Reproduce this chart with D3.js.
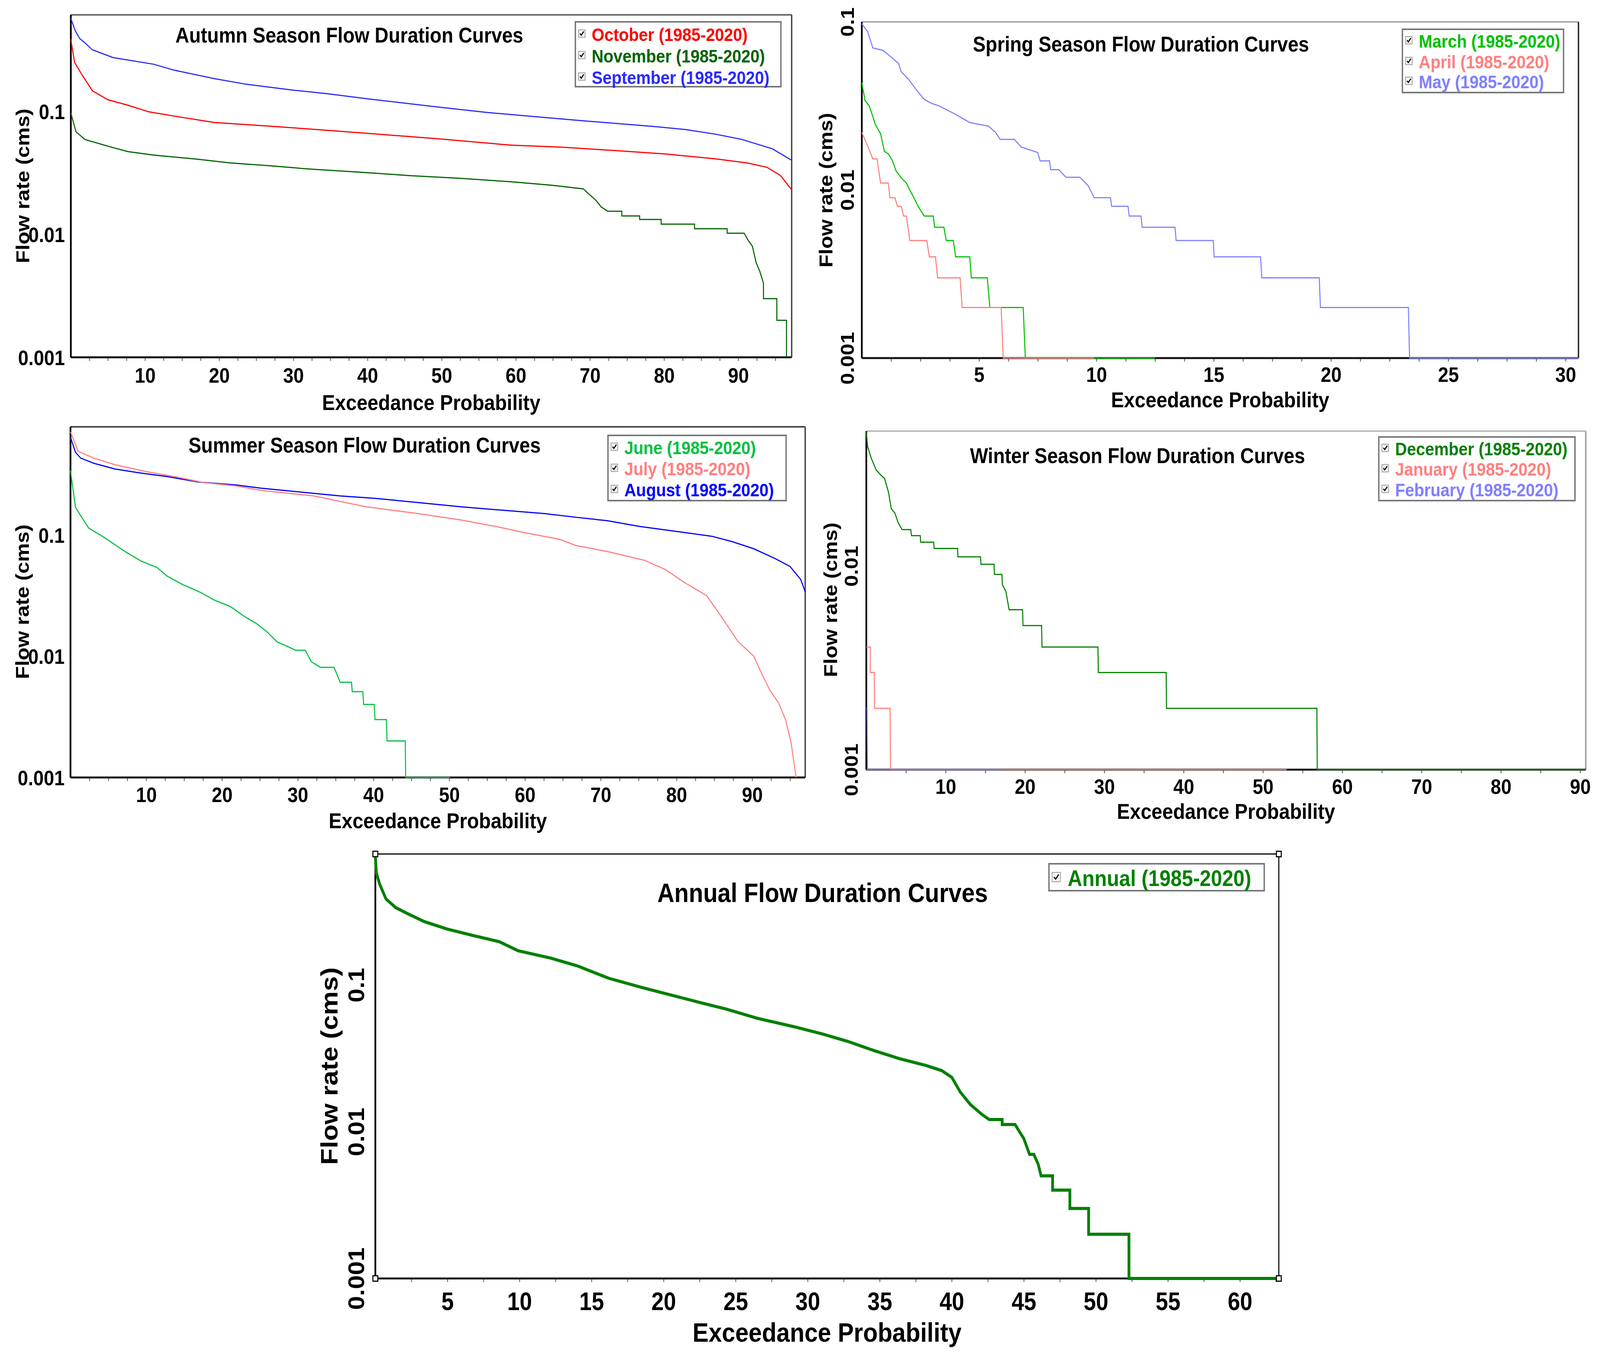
<!DOCTYPE html>
<html>
<head>
<meta charset="utf-8">
<script src="https://cdnjs.cloudflare.com/ajax/libs/d3/7.8.5/d3.min.js"></script>
<style>
  html, body { margin: 0; padding: 0; background: #fff; overflow: hidden; }
  #container { width: 100vw; height: 100vh; }
  text { font-family: "Liberation Sans", Arial, sans-serif; font-weight: bold; }
</style>
</head>
<body>
<div id="container"></div>
<script>
// ---- data: [exceedance probability, flow (cms)] ----
const september = [[0,0.57],[0.6,0.45],[1.2,0.39],[1.9,0.36],[2.9,0.316],[5.7,0.273],[11.2,0.241],[13.9,0.216],[19.4,0.184],[23.6,0.166],[29.8,0.149],[34.6,0.139],[40.1,0.126],[49.1,0.109],[56,0.098],[62.9,0.09],[69.8,0.083],[78.8,0.075],[82.9,0.071],[87,0.065],[90.5,0.059],[94.6,0.0495],[97.2,0.04]];
const october = [[0,0.385],[0.5,0.25],[1.5,0.198],[2.9,0.147],[5,0.124],[7.7,0.112],[10.5,0.099],[14.6,0.09],[19.4,0.081],[25,0.077],[31.9,0.072],[38.8,0.067],[49.1,0.06],[59.4,0.053],[66.3,0.051],[73.2,0.048],[80.1,0.045],[87,0.041],[91.2,0.038],[93.9,0.035],[95.7,0.03],[97.2,0.023]];
const november = [[0,0.097],[0.7,0.068],[1.9,0.059],[5,0.052],[7.7,0.047],[11.2,0.044],[16.7,0.041],[21.5,0.038],[27,0.036],[31.9,0.034],[38.8,0.032],[45.7,0.03],[52.6,0.0285],[59.4,0.0267],[64.9,0.025],[69.1,0.0234],[69.8,0.0214],[70.8,0.0189],[71.5,0.0167],[72.4,0.0154],[74.3,0.0154],[74.3,0.0141],[76.7,0.0141],[76.7,0.0132],[79.6,0.0132],[79.6,0.0121],[84.1,0.0121],[84.1,0.0111],[88.5,0.0111],[88.5,0.0102],[90.8,0.0102],[91.3,0.009],[91.9,0.008],[92.4,0.0059],[92.9,0.005],[93.4,0.004],[93.4,0.003],[95.2,0.003],[95.2,0.002],[96.5,0.002],[96.5,0.001]];

const march = [[0,0.0435],[0.14,0.034],[0.32,0.0316],[0.47,0.0273],[0.58,0.0245],[0.8,0.0216],[0.96,0.017],[1.13,0.0164],[1.3,0.015],[1.46,0.013],[1.68,0.0118],[1.9,0.011],[2.05,0.00995],[2.22,0.009],[2.4,0.008],[2.66,0.007],[3.05,0.007],[3.1,0.006],[3.5,0.006],[3.6,0.005],[3.9,0.005],[4.0,0.004],[4.6,0.004],[4.67,0.003],[5.35,0.003],[5.46,0.002],[6.88,0.002],[6.97,0.001],[12.5,0.001]];
const april = [[0,0.022],[0.25,0.0183],[0.47,0.0153],[0.65,0.0153],[0.8,0.011],[1.13,0.011],[1.2,0.009],[1.41,0.009],[1.52,0.008],[1.68,0.008],[1.78,0.007],[1.9,0.007],[2.05,0.005],[2.77,0.005],[2.88,0.004],[3.14,0.004],[3.23,0.003],[4.19,0.003],[4.28,0.002],[5.94,0.002],[6.03,0.001],[9.9,0.001]];
const may = [[0,0.0975],[0.25,0.0874],[0.47,0.07],[0.9,0.0677],[1.24,0.062],[1.57,0.0565],[1.67,0.0507],[2.0,0.0454],[2.33,0.0393],[2.66,0.0346],[2.99,0.0327],[3.3,0.0316],[3.97,0.0283],[4.6,0.0252],[5.4,0.024],[5.7,0.022],[5.9,0.02],[6.5,0.02],[6.8,0.018],[7.5,0.0167],[7.6,0.0149],[8.0,0.0149],[8.05,0.0132],[8.4,0.0132],[8.7,0.0119],[9.3,0.0119],[9.65,0.0106],[9.9,0.009],[10.6,0.009],[10.65,0.008],[11.35,0.008],[11.4,0.007],[11.9,0.007],[11.95,0.006],[13.35,0.006],[13.4,0.005],[14.98,0.005],[15.02,0.004],[17.0,0.004],[17.05,0.003],[19.5,0.003],[19.55,0.002],[23.3,0.002],[23.35,0.001],[30.55,0.001]];

const june = [[0,0.34],[0.66,0.169],[1.36,0.144],[2.4,0.114],[4.5,0.095],[7.2,0.073],[9.3,0.061],[11.4,0.054],[12.8,0.0456],[14.8,0.039],[17.3,0.0333],[19,0.029],[21.1,0.0257],[23.1,0.021],[24.5,0.0187],[25.9,0.016],[27.3,0.0131],[28.7,0.012],[29.7,0.0112],[31,0.0112],[31.8,0.009],[33,0.0081],[34.8,0.0081],[35.6,0.0061],[37.1,0.0061],[37.2,0.0051],[38.6,0.0051],[38.7,0.004],[40.1,0.004],[40.2,0.003],[41.7,0.003],[41.8,0.002],[44.2,0.002],[44.25,0.001],[50.1,0.001]];
const july = [[0,0.71],[1.0,0.49],[3.1,0.43],[5.85,0.38],[10,0.333],[14.1,0.3],[17.6,0.27],[21.8,0.254],[25.2,0.233],[32.1,0.21],[39,0.171],[45.9,0.15],[51.5,0.133],[56.3,0.117],[59.8,0.105],[64.6,0.092],[66.7,0.082],[70.9,0.073],[75.7,0.062],[78.5,0.052],[81.2,0.04],[84,0.0316],[86.4,0.0192],[88.1,0.0133],[90.2,0.01],[91.3,0.0071],[92.3,0.0053],[93.5,0.0041],[94.4,0.003],[95.1,0.002],[95.8,0.001]];
const august = [[0,0.64],[0.66,0.48],[1.36,0.43],[3.1,0.39],[5.85,0.35],[9.3,0.324],[12.8,0.303],[16.9,0.273],[21.8,0.259],[25.2,0.243],[30.7,0.225],[35.6,0.21],[40.4,0.2],[45.9,0.185],[51.5,0.171],[57,0.16],[62.6,0.15],[66.7,0.14],[70.9,0.131],[75,0.118],[80.5,0.106],[84.7,0.0975],[87.4,0.088],[90.2,0.077],[93,0.064],[95,0.055],[96.4,0.043],[97,0.034]];

const december = [[0,0.0457],[0.17,0.0386],[0.6,0.034],[1.25,0.0296],[1.9,0.0278],[2.3,0.0269],[2.8,0.023],[3.15,0.0191],[3.6,0.0182],[4,0.0164],[4.5,0.0151],[5.6,0.0151],[5.7,0.0141],[6.8,0.0141],[6.85,0.0131],[8.5,0.0131],[8.55,0.0122],[11.5,0.0122],[11.55,0.0111],[14.4,0.0111],[14.45,0.0102],[16.1,0.0102],[16.15,0.0091],[17.1,0.0091],[17.15,0.0081],[17.6,0.0075],[18.0,0.0061],[19.7,0.0061],[19.75,0.0051],[22.1,0.0051],[22.15,0.004],[29.2,0.004],[29.25,0.003],[37.8,0.003],[37.85,0.002],[56.8,0.002],[56.85,0.001],[90.7,0.001]];
const january = [[0,0.004],[0.5,0.004],[0.5,0.003],[1.0,0.003],[1.05,0.002],[3.0,0.002],[3.05,0.001],[53,0.001]];
const february = [[0,0.002],[0.1,0.002],[0.15,0.001],[17.1,0.001]];

const annual = [[0,0.76],[0.07,0.58],[0.3,0.486],[0.74,0.385],[1.4,0.337],[2.3,0.304],[3.4,0.27],[5,0.24],[6.8,0.217],[8.6,0.197],[9.9,0.171],[12.2,0.152],[14,0.135],[16.2,0.111],[18.5,0.096],[20.2,0.087],[22.5,0.076],[24.3,0.0687],[26.5,0.0593],[29.2,0.0515],[31,0.0464],[32.8,0.0412],[34.6,0.0357],[36.4,0.0314],[38.2,0.0283],[39.3,0.0261],[40,0.0235],[40.6,0.0186],[41.3,0.0153],[42.1,0.0131],[42.6,0.0121],[43.5,0.0121],[43.5,0.0112],[44.4,0.0112],[44.7,0.01],[45,0.009],[45.4,0.007],[45.7,0.007],[46,0.006],[46.2,0.005],[47,0.005],[47,0.004],[48.2,0.004],[48.2,0.003],[49.5,0.003],[49.5,0.002],[52.3,0.002],[52.3,0.001],[62.7,0.001]];

// tick labels
const ticksBy10 = [10, 20, 30, 40, 50, 60, 70, 80, 90];
const ticksBy5Spring = [5, 10, 15, 20, 25, 30];
const ticksBy5Annual = [5, 10, 15, 20, 25, 30, 35, 40, 45, 50, 55, 60];
const yTicks3 = [0.001, 0.01, 0.1];
const yTicks2 = [0.001, 0.01];
const period = "(1985-2020)";

const W = 4608, H = 3470;
const svg = d3.select("#container").append("svg")
  .attr("viewBox", `0 0 ${W} ${H}`)
  .attr("preserveAspectRatio", "none")
  .attr("width", "100%").attr("height", "100%")
  .style("display", "block");
svg.append("rect").attr("width", W).attr("height", H).attr("fill", "#fff");

const panels = [
  {
    title: "Autumn Season Flow Duration Curves",
    x0: 204, x1: 2280, y0: 38, y1: 915, xMax: 97.2, yMax: 0.608,
    xTicks: ticksBy10, minor: 2.5, yTicks: yTicks3, yRot: false,
    topColor: "#666", rightColor: "#444",
    titleX: 1006, titleY: 109, titleSize: 55,
    tickSize: 54, tickY: 65, xlabY: 135, labSize: 56,
    ylabX: 65, ylabY: 476, ylabSize: 54,
    legend: { x: 1657, y: 56, w: 592, h: 166, rows: [88, 143, 198], size: 47 },
    series: [
      { name: "October", data: october, color: "#ff0000" },
      { name: "November", data: november, color: "#006400" },
      { name: "September", data: september, color: "#2a2aff" }
    ],
    order: [2, 0, 1], lw: 3
  },
  {
    title: "Spring Season Flow Duration Curves",
    x0: 2482, x1: 4546, y0: 56, y1: 917, xMax: 30.55, yMax: 0.1,
    xTicks: ticksBy5Spring, minor: 1.25, yTicks: yTicks3, yRot: true, yRotX: 2440,
    topColor: "#aaa", rightColor: "#222",
    titleX: 3286, titleY: 132, titleSize: 55,
    tickSize: 54, tickY: 61, xlabY: 126, labSize: 56,
    ylabX: 2378, ylabY: 487, ylabSize: 54,
    legend: { x: 4039, y: 75, w: 464, h: 162, rows: [105, 158, 209], size: 47 },
    series: [
      { name: "March", data: march, color: "#00c000" },
      { name: "April", data: april, color: "#ff8080" },
      { name: "May", data: may, color: "#8080ff" }
    ],
    order: [0, 1, 2], lw: 3
  },
  {
    title: "Summer Season Flow Duration Curves",
    x0: 203, x1: 2319, y0: 1093, y1: 1991, xMax: 97, yMax: 0.78,
    xTicks: ticksBy10, minor: 2.5, yTicks: yTicks3, yRot: false,
    topColor: "#444", rightColor: "#444",
    titleX: 1050, titleY: 1159, titleSize: 55,
    tickSize: 54, tickY: 63, xlabY: 130, labSize: 56,
    ylabX: 64, ylabY: 1541, ylabSize: 54,
    legend: { x: 1751, y: 1115, w: 513, h: 167, rows: [1146, 1200, 1254], size: 47 },
    series: [
      { name: "June", data: june, color: "#00c040" },
      { name: "July", data: july, color: "#ff8080" },
      { name: "August", data: august, color: "#0000ff" }
    ],
    order: [0, 2, 1], lw: 3
  },
  {
    title: "Winter Season Flow Duration Curves",
    x0: 2495, x1: 4567, y0: 1104, y1: 1971, xMax: 90.7, yMax: 0.046,
    xTicks: ticksBy10, minor: 5, yTicks: yTicks2, yRot: true, yRotX: 2451,
    topColor: "#bbb", rightColor: "#999",
    titleX: 3276, titleY: 1186, titleSize: 55,
    tickSize: 54, tickY: 62, xlabY: 126, labSize: 56,
    ylabX: 2391, ylabY: 1536, ylabSize: 54,
    legend: { x: 3971, y: 1119, w: 565, h: 163, rows: [1149, 1201, 1254], size: 47 },
    series: [
      { name: "December", data: december, color: "#008000" },
      { name: "January", data: january, color: "#ff8080" },
      { name: "February", data: february, color: "#8080ff" }
    ],
    order: [0, 1, 2], lw: 3
  },
  {
    title: "Annual Flow Duration Curves",
    x0: 1081, x1: 3683, y0: 2187, y1: 3274, xMax: 62.7, yMax: 0.78,
    xTicks: ticksBy5Annual, minor: 2.5, yTicks: yTicks3, yRot: true, yRotX: 1026,
    topColor: "#000", rightColor: "#000", handles: true,
    titleX: 2369, titleY: 2310, titleSize: 68,
    tickSize: 64, tickY: 81, xlabY: 162, labSize: 69,
    ylabX: 947, ylabY: 2730, ylabSize: 69,
    legend: { x: 3021, y: 2212, w: 620, h: 69, rows: [2248], size: 58, box: 24 },
    series: [
      { name: "Annual", data: annual, color: "#008000" }
    ],
    order: [0], lw: 8
  }
];

panels.forEach(drawPanel);

function drawPanel(p) {
  const x = d3.scaleLinear().domain([0, p.xMax]).range([p.x0, p.x1]);
  const y = d3.scaleLog().domain([0.001, p.yMax]).range([p.y1, p.y0]);
  const g = svg.append("g");

  // frame: top and right
  g.append("line").attr("x1", p.x0).attr("x2", p.x1).attr("y1", p.y0).attr("y2", p.y0)
    .attr("stroke", p.topColor).attr("stroke-width", p.handles ? 3 : 4);
  g.append("line").attr("x1", p.x1).attr("x2", p.x1).attr("y1", p.y0).attr("y2", p.y1)
    .attr("stroke", p.rightColor).attr("stroke-width", p.handles ? 3 : 4);

  // minor ticks on x
  const minorVals = d3.range(p.minor, p.xMax, p.minor);
  g.append("g")
    .attr("transform", `translate(0,${p.y1})`)
    .call(d3.axisBottom(x).tickValues(minorVals).tickSize(9).tickFormat(""))
    .call(a => a.select(".domain").remove())
    .call(a => a.selectAll("line").attr("stroke", "#777").attr("stroke-width", 3));

  // x tick labels
  g.append("g")
    .attr("transform", `translate(0,${p.y1})`)
    .call(d3.axisBottom(x).tickValues(p.xTicks).tickSize(0).tickFormat(d3.format("d")))
    .call(a => a.select(".domain").remove())
    .call(a => a.selectAll("text")
      .attr("y", p.tickY).attr("dy", null)
      .attr("fill", "#000")
      .style("font-size", p.tickSize + "px")
      .style("font-family", "'Liberation Sans', Arial, sans-serif")
      .style("font-weight", "bold"));

  // y tick labels
  const yAx = g.append("g")
    .attr("transform", `translate(${p.x0},0)`)
    .call(d3.axisLeft(y).tickValues(p.yTicks).tickSize(0).tickFormat(d => String(d)))
    .call(a => a.select(".domain").remove());
  yAx.selectAll("text")
    .attr("fill", "#000")
    .style("font-size", p.tickSize + "px")
    .style("font-family", "'Liberation Sans', Arial, sans-serif")
    .style("font-weight", "bold")
    .attr("dy", "0.36em");
  if (p.yRot) {
    yAx.selectAll("text")
      .attr("x", null)
      .attr("text-anchor", "middle")
      .attr("transform", `translate(${p.yRotX - p.x0},0) rotate(-90)`);
  } else {
    yAx.selectAll("text").attr("x", -17).attr("text-anchor", "end");
  }

  // axis lines (left, bottom)
  g.append("line").attr("x1", p.x0).attr("x2", p.x1).attr("y1", p.y1).attr("y2", p.y1)
    .attr("stroke", "#111").attr("stroke-width", 5);
  g.append("line").attr("x1", p.x0).attr("x2", p.x0).attr("y1", p.y0).attr("y2", p.y1)
    .attr("stroke", "#000").attr("stroke-width", 5);

  // curves
  const line = d3.line().x(d => x(d[0])).y(d => y(d[1]));
  p.order.forEach(i => {
    const s = p.series[i];
    g.append("path")
      .datum(s.data)
      .attr("d", line)
      .attr("fill", "none")
      .attr("stroke", s.color)
      .attr("stroke-width", p.lw)
      .attr("stroke-linejoin", "miter");
  });

  if (p.handles) {
    [[p.x0, p.y0], [p.x1, p.y0], [p.x0, p.y1], [p.x1, p.y1]].forEach(c => {
      g.append("rect").attr("x", c[0] - 7).attr("y", c[1] - 7)
        .attr("width", 14).attr("height", 14)
        .attr("fill", "#fff").attr("stroke", "#000").attr("stroke-width", 3);
    });
  }

  // title
  g.append("text")
    .attr("x", p.titleX).attr("y", p.titleY)
    .attr("text-anchor", "middle")
    .style("font-size", p.titleSize + "px")
    .text(p.title);

  // x label
  g.append("text")
    .attr("x", (p.x0 + p.x1) / 2).attr("y", p.y1 + p.xlabY)
    .attr("text-anchor", "middle")
    .style("font-size", p.labSize + "px")
    .text("Exceedance Probability");

  // y label
  g.append("text")
    .attr("transform", `translate(${p.ylabX},${p.ylabY}) rotate(-90)`)
    .attr("text-anchor", "middle")
    .attr("dy", "0.36em")
    .style("font-size", p.ylabSize + "px")
    .text("Flow rate (cms)");

  // legend
  const L = p.legend;
  const lg = g.append("g");
  lg.append("rect").attr("x", L.x).attr("y", L.y).attr("width", L.w).attr("height", L.h)
    .attr("fill", "#fff").attr("stroke", "#777").attr("stroke-width", 4);
  const bs = L.box || 19;
  p.series.forEach((s, i) => {
    const cy = L.rows[i];
    const bx = L.x + 9;
    lg.append("rect").attr("x", bx).attr("y", cy - bs / 2 - 2).attr("width", bs).attr("height", bs)
      .attr("fill", "#f4f4f4").attr("stroke", "#999").attr("stroke-width", 2);
    lg.append("path")
      .attr("d", `M${bx + bs * 0.22},${cy - 2} L${bx + bs * 0.42},${cy + bs * 0.22 - 2} L${bx + bs * 0.8},${cy - bs * 0.28 - 2}`)
      .attr("fill", "none").attr("stroke", "#000").attr("stroke-width", 3);
    lg.append("text")
      .attr("x", bx + bs + (L.box ? 21 : 19)).attr("y", cy)
      .attr("dy", "0.36em")
      .attr("fill", s.color)
      .style("font-size", L.size + "px")
      .text(`${s.name} ${period}`);
  });
}
</script>
</body>
</html>
